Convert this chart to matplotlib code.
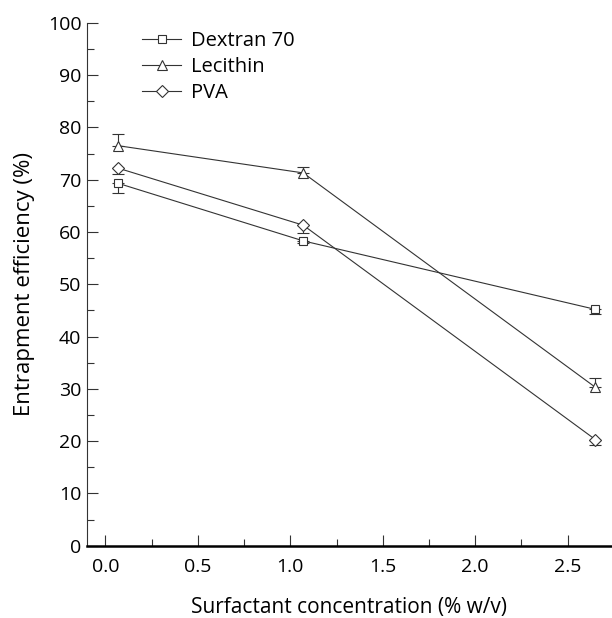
import matplotlib.pyplot as plt
from matplotlib.ticker import MultipleLocator

plt.rcParams['font.family'] = ['Open Sans', 'DejaVu Sans']

# surfactant concentration (% w/v)
conc = [0.07, 1.07, 2.65]

series = ['Dextran 70', 'Lecithin', 'PVA']
dextran = [69.3, 58.3, 45.2]
dextran_err = [1.9, 0.5, 0.8]     # drawn below the point
lecithin = [76.5, 71.3, 30.3]
lecithin_err = [2.3, 1.2, 1.8]    # drawn above the point
pva = [72.2, 61.3, 20.3]
pva_err = [1.2, 1.5, 1.0]         # drawn below the point
none = [0, 0, 0]

col = '#333333'
fig = plt.figure(figsize=(6.12, 6.18), dpi=100)
ax = fig.add_axes([0.142, 0.117, 0.858, 0.846])

kw = dict(color=col, lw=0.8, mfc='white', mec=col, mew=0.8,
          capsize=4, elinewidth=0.8, capthick=0.8)
e1 = ax.errorbar(conc, dextran, yerr=[dextran_err, none], marker='s', ms=6, **kw)
e2 = ax.errorbar(conc, lecithin, yerr=[none, lecithin_err], marker='^', ms=7, **kw)
e3 = ax.errorbar(conc, pva, yerr=[pva_err, none], marker='D', ms=6, **kw)

ax.set_xlim(-0.1, 2.74)
ax.set_ylim(0, 100)
ax.set_xticks([0, 0.5, 1.0, 1.5, 2.0, 2.5])
ax.set_xticklabels(['0.0', '0.5', '1.0', '1.5', '2.0', '2.5'])
ax.xaxis.set_minor_locator(MultipleLocator(0.25))
ax.yaxis.set_major_locator(MultipleLocator(10))
ax.yaxis.set_minor_locator(MultipleLocator(5))

ax.spines['top'].set_visible(False)
ax.spines['right'].set_visible(False)
ax.spines['bottom'].set_linewidth(1.8)
ax.spines['left'].set_linewidth(0.8)
ax.spines['left'].set_color(col)
ax.tick_params(which='both', direction='in', colors=col, labelcolor='black',
               labelsize=14)
ax.tick_params(which='major', length=8, width=0.8)
ax.tick_params(which='minor', length=5, width=0.8)
ax.tick_params(axis='x', pad=9)
ax.tick_params(axis='y', pad=4)

ax.set_xlabel('Surfactant concentration (% w/v)', fontsize=15, labelpad=15)
ax.set_ylabel('Entrapment efficiency (%)', fontsize=16, labelpad=9)

ax.legend([e1[0], e2[0], e3[0]], series, loc='upper left',
          bbox_to_anchor=(0.09, 1.0), borderaxespad=0, frameon=False,
          fontsize=14.5, handlelength=1.95, handletextpad=0.45,
          labelspacing=0.3)

fig.savefig('out.png', dpi=100)
